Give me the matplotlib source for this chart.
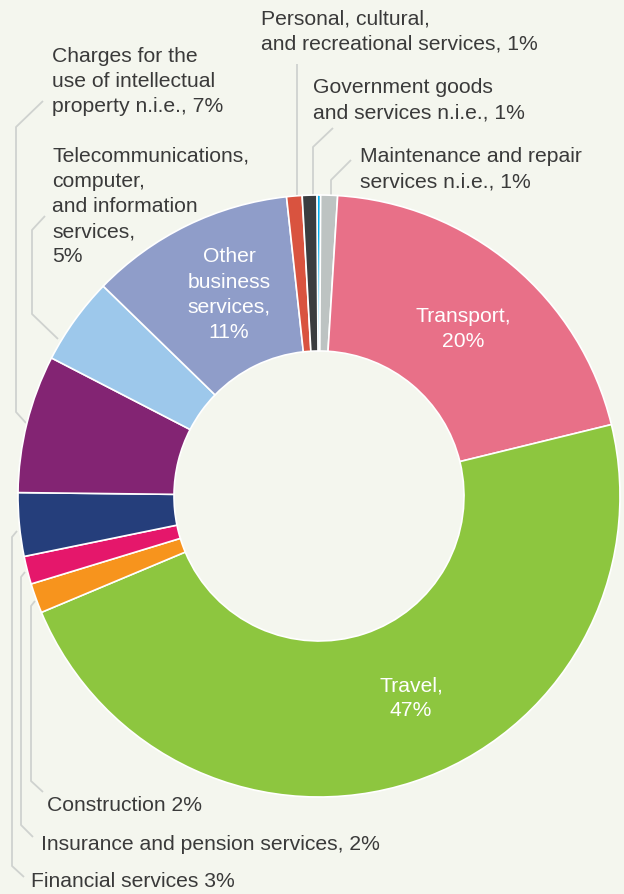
import matplotlib
matplotlib.use("Agg")
import matplotlib.pyplot as plt

plt.rcParams['font.family'] = ['Liberation Sans', 'DejaVu Sans']

# ---- data (clockwise from top) ----
categories = ["", "Maintenance and repair services n.i.e.", "Transport", "Travel",
              "Construction", "Insurance and pension services", "Financial services",
              "Charges for the use of intellectual property n.i.e.",
              "Telecommunications, computer, and information services",
              "Other business services", "Personal, cultural, and recreational services",
              "Government goods and services n.i.e."]
values = [0.2, 0.9, 20.2, 47.5, 1.6, 1.5, 3.4, 7.4, 4.7, 11.0, 0.83, 0.78]
colors = ["#00aeef", "#bdc3c2", "#e87088", "#8dc63f", "#f7941d", "#e5176b", "#253e7b",
          "#832473", "#9dc8eb", "#8f9dc9", "#d9533f", "#3a3d40"]

W, H = 624, 895
BG = "#f4f6ee"
TXT = "#3a3a3a"
LINE = "#cfd2cf"

fig = plt.figure(figsize=(W / 100, H / 100), dpi=100, facecolor=BG)
ax = fig.add_axes([0, 0, 1, 1])
ax.set_xlim(0, W)
ax.set_ylim(0, H)
ax.set_aspect('equal')
ax.axis('off')
ax.set_facecolor(BG)

def Y(y):
    return H - y

cx, cy, R, r_in = 319, 497, 301, 145
ax.pie(values, colors=colors, startangle=90.4, counterclock=False,
       center=(cx, Y(cy)), radius=R, frame=True,
       wedgeprops=dict(width=R - r_in, edgecolor='white', linewidth=1.2))
ax.set_xlim(0, W)
ax.set_ylim(0, H)
ax.axis('off')

fs = 15.2
ls = 1.4
step = 25.2

# inside labels
ax.text(463, Y(329), "Transport,\n20%", color='white', fontsize=fs, ha='center', va='center', linespacing=ls)
ax.text(411, Y(698), "Travel,\n47%", color='white', fontsize=fs, ha='center', va='center', linespacing=ls)
for i, line in enumerate(["Other", "business", "services,", "11%"]):
    ax.text(229, Y(257 + i * step), line, color='white', fontsize=fs, ha='center', va='center')

# outside labels
def lab(x, y, s):
    ax.text(x, Y(y), s, color=TXT, fontsize=fs, ha='left', va='top', linespacing=ls)

lab(261, 9, "Personal, cultural,\nand recreational services, 1%")
lab(313, 78, "Government goods\nand services n.i.e., 1%")
lab(360, 147, "Maintenance and repair\nservices n.i.e., 1%")
lab(52, 47, "Charges for the\nuse of intellectual\nproperty n.i.e., 7%")
for i, line in enumerate(["Telecommunications,", "computer,", "and information", "services,", "5%"]):
    ax.text(52, Y(156 + i * step), line, color=TXT, fontsize=fs, ha='left', va='center')

def labc(x, y, s):
    ax.text(x, Y(y), s, color=TXT, fontsize=fs, ha='left', va='center')

labc(47, 806, "Construction 2%")
labc(41, 845, "Insurance and pension services, 2%")
labc(31, 882, "Financial services 3%")

# leader lines
def leader(pts):
    xs = [p[0] for p in pts]
    ys = [Y(p[1]) for p in pts]
    ax.plot(xs, ys, color=LINE, lw=1.3, solid_capstyle='butt', zorder=0.5)

leader([(297, 65), (297, 197)])
leader([(333, 129), (313, 148), (313, 197)])
leader([(351, 161), (331, 181), (331, 197)])
leader([(43, 102), (16, 128), (16, 413), (26, 424)])
leader([(45, 217), (32, 231), (32, 315), (58, 340)])
leader([(17, 532), (12, 538), (12, 867), (24, 878)])
leader([(25, 573), (21, 578), (21, 826), (33, 838)])
leader([(35, 602), (31, 607), (31, 782), (43, 793)])

fig.savefig("out.png", dpi=100, facecolor=BG)
